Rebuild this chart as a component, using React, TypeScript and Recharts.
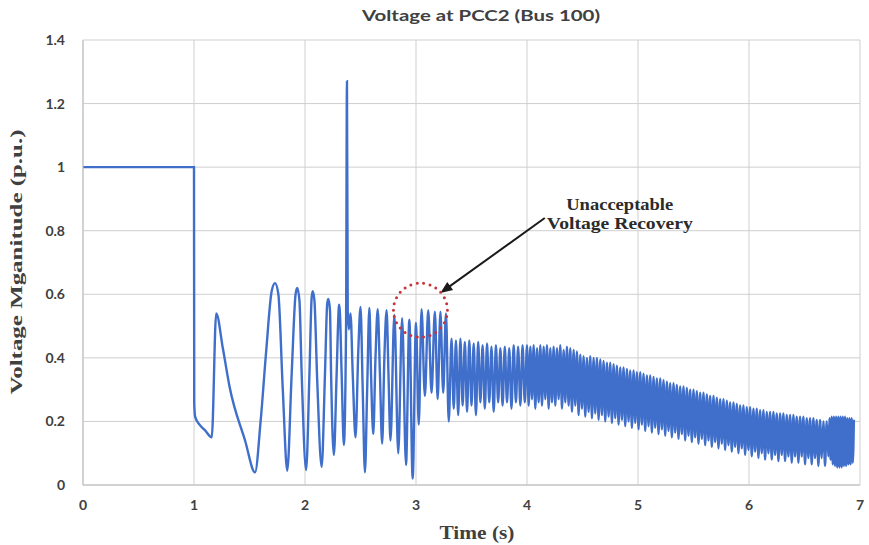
import React from 'react';
import { LineChart, Line, XAxis, YAxis, CartesianGrid, ReferenceDot, ReferenceLine } from 'recharts';

type Pt = [number, number];

const timeTicks = [0, 1, 2, 3, 4, 5, 6, 7];
const voltageTicks = [0, 0.2, 0.4, 0.6, 0.8, 1, 1.2, 1.4];

const preFault: Pt[] = [[0, 1], [0.5, 1], [1.0, 1]];

const faultTransient: Pt[] = [
  [1.002, 0.26], [1.01, 0.215], [1.05, 0.19], [1.1, 0.172], [1.16, 0.15],
  [1.2, 0.54], [1.26, 0.43], [1.32, 0.31], [1.46, 0.14], [1.55, 0.04],
  [1.6, 0.2], [1.65, 0.42], [1.7, 0.61], [1.73, 0.635], [1.76, 0.6], [1.8, 0.3], [1.84, 0.045],
  [1.88, 0.35], [1.915, 0.6], [1.93, 0.62], [1.95, 0.58], [1.97, 0.35], [2.01, 0.047],
  [2.04, 0.35], [2.06, 0.59], [2.07, 0.61], [2.085, 0.58], [2.11, 0.33], [2.15, 0.057],
  [2.18, 0.35], [2.2, 0.57], [2.21, 0.585], [2.225, 0.55], [2.235, 0.35], [2.26, 0.094],
  [2.285, 0.35], [2.305, 0.56], [2.31, 0.567], [2.33, 0.35], [2.35, 0.126],
];

const reclosingSpike: Pt[] = [
  [2.37, 0.5], [2.378, 1.27], [2.385, 0.55], [2.395, 0.49], [2.41, 0.54], [2.43, 0.35], [2.455, 0.15],
  [2.48, 0.42], [2.5, 0.56], [2.52, 0.3], [2.54, 0.04], [2.56, 0.3], [2.58, 0.557], [2.595, 0.35],
  [2.615, 0.16], [2.635, 0.4], [2.655, 0.553], [2.675, 0.35], [2.695, 0.13], [2.715, 0.4],
  [2.735, 0.55], [2.752, 0.35], [2.77, 0.14], [2.805, 0.535], [2.84, 0.1], [2.875, 0.525],
  [2.91, 0.063], [2.94, 0.52], [2.97, 0.02], [3.0, 0.51], [3.025, 0.19], [3.05, 0.553],
  [3.08, 0.28], [3.11, 0.55], [3.14, 0.29], [3.17, 0.545], [3.195, 0.27], [3.22, 0.545],
  [3.245, 0.29], [3.27, 0.54], [3.295, 0.2],
];

const dampedBandEarly: Pt[] = [
  [3.32, 0.46], [3.34, 0.24], [3.36, 0.455], [3.38, 0.22], [3.4, 0.46], [3.42, 0.25],
  [3.44, 0.45], [3.46, 0.23], [3.48, 0.455], [3.5, 0.25], [3.52, 0.445], [3.54, 0.22],
  [3.56, 0.45], [3.58, 0.26], [3.6, 0.44], [3.62, 0.24], [3.64, 0.445], [3.66, 0.26],
  [3.68, 0.435], [3.7, 0.23], [3.72, 0.44], [3.74, 0.26], [3.76, 0.43], [3.78, 0.25],
  [3.8, 0.435], [3.82, 0.26], [3.84, 0.43], [3.86, 0.24], [3.88, 0.44], [3.9, 0.26],
  [3.92, 0.435], [3.94, 0.25], [3.96, 0.44], [3.98, 0.26],
];

const dampedBandLate: Pt[] = [
  [4.0, 0.44], [4.015, 0.25], [4.03, 0.435], [4.045, 0.27], [4.06, 0.44], [4.075, 0.24],
  [4.09, 0.43], [4.105, 0.26], [4.12, 0.44], [4.135, 0.25], [4.15, 0.435], [4.165, 0.27],
  [4.18, 0.44], [4.195, 0.24], [4.21, 0.43], [4.225, 0.26], [4.24, 0.435], [4.255, 0.25],
  [4.27, 0.43], [4.285, 0.27], [4.3, 0.44], [4.315, 0.24], [4.33, 0.425], [4.345, 0.26],
  [4.36, 0.435], [4.375, 0.25], [4.39, 0.43], [4.405, 0.23], [4.42, 0.425], [4.435, 0.25],
  [4.45, 0.42], [4.465, 0.22], [4.48, 0.41], [4.495, 0.24], [4.51, 0.405], [4.525, 0.215],
  [4.54, 0.4], [4.555, 0.23], [4.57, 0.405], [4.585, 0.21], [4.6, 0.4], [4.615, 0.225],
  [4.63, 0.4], [4.645, 0.205], [4.66, 0.395], [4.675, 0.22], [4.69, 0.39], [4.705, 0.2],
  [4.72, 0.385], [4.735, 0.215], [4.75, 0.385], [4.765, 0.195], [4.78, 0.38], [4.795, 0.21],
  [4.81, 0.375], [4.825, 0.19], [4.84, 0.37], [4.855, 0.205], [4.87, 0.37], [4.885, 0.185],
  [4.9, 0.365], [4.915, 0.2], [4.93, 0.36], [4.945, 0.18], [4.96, 0.36], [4.975, 0.195],
  [4.99, 0.355], [5.005, 0.175], [5.02, 0.355], [5.035, 0.19], [5.05, 0.35], [5.065, 0.17],
  [5.08, 0.345], [5.095, 0.185], [5.11, 0.345], [5.125, 0.165], [5.14, 0.34], [5.155, 0.18],
  [5.17, 0.335], [5.185, 0.16], [5.2, 0.335], [5.215, 0.175], [5.23, 0.33], [5.245, 0.155],
  [5.26, 0.325], [5.275, 0.17], [5.29, 0.32], [5.305, 0.15], [5.32, 0.32], [5.335, 0.165],
  [5.35, 0.315], [5.365, 0.145], [5.38, 0.31], [5.395, 0.16], [5.41, 0.31], [5.425, 0.14],
  [5.44, 0.305], [5.455, 0.155], [5.47, 0.3], [5.485, 0.135], [5.5, 0.3], [5.515, 0.15],
  [5.53, 0.295], [5.545, 0.13], [5.56, 0.29], [5.575, 0.145], [5.59, 0.29], [5.605, 0.125],
  [5.62, 0.285], [5.635, 0.14], [5.65, 0.28], [5.665, 0.12], [5.68, 0.28], [5.695, 0.135],
  [5.71, 0.275], [5.725, 0.115], [5.74, 0.27], [5.755, 0.13], [5.77, 0.27], [5.785, 0.11],
  [5.8, 0.265], [5.815, 0.125], [5.83, 0.26], [5.845, 0.105], [5.86, 0.26], [5.875, 0.12],
  [5.89, 0.255], [5.905, 0.1], [5.92, 0.25], [5.935, 0.115], [5.95, 0.25], [5.965, 0.095],
  [5.98, 0.245], [5.995, 0.11], [6.01, 0.245], [6.025, 0.09], [6.04, 0.24], [6.055, 0.105],
  [6.07, 0.24], [6.085, 0.085], [6.1, 0.235], [6.115, 0.1], [6.13, 0.235], [6.145, 0.08],
  [6.16, 0.23], [6.175, 0.1], [6.19, 0.23], [6.205, 0.08], [6.22, 0.23], [6.235, 0.095],
  [6.25, 0.225], [6.265, 0.075], [6.28, 0.225], [6.295, 0.095], [6.31, 0.225], [6.325, 0.075],
  [6.34, 0.22], [6.355, 0.09], [6.37, 0.22], [6.385, 0.07], [6.4, 0.22], [6.415, 0.09],
  [6.43, 0.215], [6.445, 0.07], [6.46, 0.215], [6.475, 0.09], [6.49, 0.215], [6.505, 0.065],
  [6.52, 0.21], [6.535, 0.085], [6.55, 0.21], [6.565, 0.065], [6.58, 0.21], [6.595, 0.085],
  [6.61, 0.205], [6.625, 0.06], [6.64, 0.205], [6.655, 0.085], [6.67, 0.2], [6.685, 0.06],
  [6.7, 0.2], [6.715, 0.09],
];

const endBlock: Pt[] = [
  [6.725, 0.21], [6.735, 0.08], [6.745, 0.215], [6.755, 0.065], [6.765, 0.215], [6.775, 0.06],
  [6.785, 0.215], [6.795, 0.055], [6.805, 0.215], [6.815, 0.055], [6.825, 0.215], [6.835, 0.055],
  [6.845, 0.215], [6.855, 0.06], [6.865, 0.215], [6.875, 0.06], [6.885, 0.21], [6.895, 0.065],
  [6.905, 0.21], [6.915, 0.065], [6.925, 0.21], [6.935, 0.07], [6.945, 0.205],
];

const chartData = [
  ...preFault, ...faultTransient, ...reclosingSpike, ...dampedBandEarly, ...dampedBandLate, ...endBlock,
].map(([t, v]) => ({ t, v }));

const W = 869;
const H = 545;

const tickStyle = { fontFamily: 'Lato, "Open Sans", sans-serif', fontWeight: 700, fontSize: 14, fill: '#404040' };

const ArrowShape = (p: any) => {
  const { x1, y1, x2, y2 } = p;
  if ([x1, y1, x2, y2].some((n) => typeof n !== 'number' || isNaN(n))) return <g />;
  const dx = x2 - x1;
  const dy = y2 - y1;
  const len = Math.sqrt(dx * dx + dy * dy) || 1;
  const ux = dx / len;
  const uy = dy / len;
  const nx = -uy;
  const ny = ux;
  const L = 12;
  const Wd = 5;
  const bx = x2 - L * ux;
  const by = y2 - L * uy;
  const pts = `${x2},${y2} ${bx + Wd * nx},${by + Wd * ny} ${bx - Wd * nx},${by - Wd * ny}`;
  const textStyle = { fontFamily: '"Liberation Serif", "Times New Roman", serif', fontWeight: 700, fontSize: 16, fill: '#2b2b2b' };
  return (
    <g>
      <line x1={x1} y1={y1} x2={bx + 2 * ux} y2={by + 2 * uy} stroke="#1a1a1a" strokeWidth={2} />
      <polygon points={pts} fill="#1a1a1a" />
      <text x={x1 + 75} y={y1 - 8} textAnchor="middle" textLength={107} lengthAdjust="spacingAndGlyphs" style={textStyle}>
        Unacceptable
      </text>
      <text x={x1 + 75} y={y1 + 11} textAnchor="middle" textLength={146} lengthAdjust="spacingAndGlyphs" style={textStyle}>
        Voltage Recovery
      </text>
    </g>
  );
};

const CircleShape = (p: any) => {
  const { cx, cy } = p;
  if (typeof cx !== 'number' || typeof cy !== 'number') return <g />;
  return (
    <circle cx={cx} cy={cy} r={27} fill="none" stroke="#c8343a" strokeWidth={3} strokeDasharray="0 6.5" strokeLinecap="round" />
  );
};

export default function App() {
  return (
    <div style={{ position: 'absolute', left: 0, top: 0, width: W, height: H, background: '#ffffff' }}>
      <LineChart width={W} height={H} data={chartData} margin={{ top: 40, right: 9, left: 23, bottom: 30 }}>
        <CartesianGrid stroke="#cfcfcf" strokeWidth={1} />
        <XAxis
          dataKey="t"
          type="number"
          domain={[0, 7]}
          ticks={timeTicks}
          allowDataOverflow
          height={30}
          tickSize={0}
          tickMargin={15}
          tick={tickStyle}
          axisLine={{ stroke: '#bdbdbd' }}
          interval={0}
        />
        <YAxis
          type="number"
          domain={[0, 1.4]}
          ticks={voltageTicks}
          allowDataOverflow
          width={60}
          tickSize={0}
          tickMargin={18}
          tick={tickStyle}
          axisLine={{ stroke: '#bdbdbd' }}
          interval={0}
        />
        <Line
          dataKey="v"
          type="monotone"
          stroke="#3f6fca"
          strokeWidth={2.4}
          dot={false}
          activeDot={false}
          isAnimationActive={false}
        />
        <ReferenceDot x={3.04} y={0.55} r={27} shape={CircleShape} />
        <ReferenceLine segment={[{ x: 4.16, y: 0.84 }, { x: 3.22, y: 0.604 }]} shape={ArrowShape} />
      </LineChart>
      <svg width={W} height={H} style={{ position: 'absolute', left: 0, top: 0, pointerEvents: 'none' }}>
        <text
          x={481}
          y={21}
          textAnchor="middle"
          textLength={238}
          lengthAdjust="spacingAndGlyphs"
          style={{ fontFamily: 'Lato, "Open Sans", sans-serif', fontWeight: 700, fontSize: 15, fill: '#404040' }}
        >
          Voltage at PCC2 (Bus 100)
        </text>
        <text
          transform="translate(22,262) rotate(-90)"
          textAnchor="middle"
          textLength={265}
          lengthAdjust="spacingAndGlyphs"
          style={{ fontFamily: '"Liberation Serif", "Times New Roman", serif', fontWeight: 700, fontSize: 17, fill: '#404040' }}
        >
          Voltage Mganitude (p.u.)
        </text>
        <text
          x={477}
          y={539}
          textAnchor="middle"
          textLength={75}
          lengthAdjust="spacingAndGlyphs"
          style={{ fontFamily: '"Liberation Serif", "Times New Roman", serif', fontWeight: 700, fontSize: 18, fill: '#404040' }}
        >
          Time (s)
        </text>
      </svg>
    </div>
  );
}
